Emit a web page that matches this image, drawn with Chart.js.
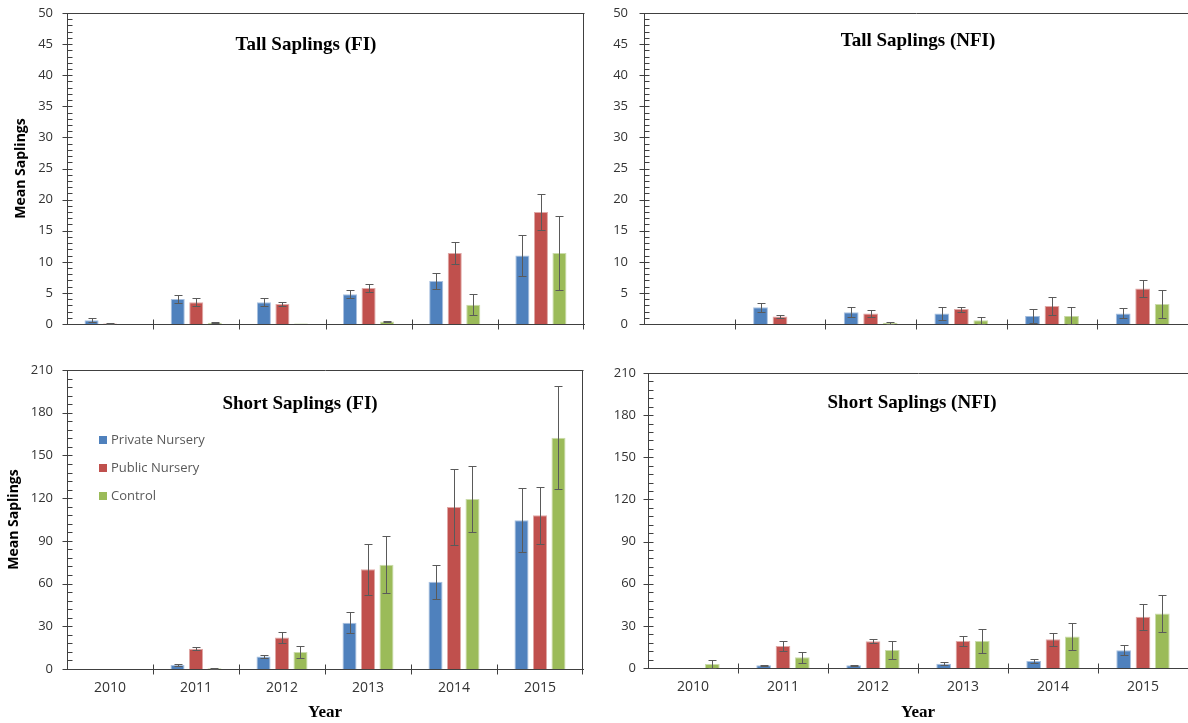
<!DOCTYPE html>
<html>
<head>
<meta charset="utf-8">
<script src="https://cdn.jsdelivr.net/npm/chart.js@4.4.1/dist/chart.umd.min.js"></script>
<style>
  body { margin: 0; background: #fff; width: 1188px; height: 723px; overflow: hidden; position: relative; }
  canvas { position: absolute; }
</style>
</head>
<body>
<canvas id="tallFI" width="600" height="340" style="left:0;top:0"></canvas>
<canvas id="tallNFI" width="588" height="340" style="left:600px;top:0"></canvas>
<canvas id="shortFI" width="600" height="383" style="left:0;top:340px"></canvas>
<canvas id="shortNFI" width="588" height="383" style="left:600px;top:340px"></canvas>
<script>
// categories and series
const years = ['2010', '2011', '2012', '2013', '2014', '2015'];
const seriesNames = ['Private Nursery', 'Public Nursery', 'Control'];
const seriesColors = ['#4F81BD', '#C0504D', '#9BBB59'];
const seriesEdges = ['#a9c1e0', '#e0a9a7', '#cbdcab'];

// Tall saplings, FI
const tallFI_private = [0.6, 4.0, 3.5, 4.8, 6.9, 11.0];
const tallFI_private_err = [0.3, 0.7, 0.6, 0.7, 1.3, 3.3];
const tallFI_public = [0.1, 3.5, 3.2, 5.8, 11.4, 18.0];
const tallFI_public_err = [0.05, 0.65, 0.3, 0.6, 1.8, 2.9];
const tallFI_control = [0, 0.2, 0.1, 0.4, 3.1, 11.4];
const tallFI_control_err = [0, 0.1, 0, 0.15, 1.7, 5.9];

// Tall saplings, NFI
const tallNFI_private = [0, 2.7, 1.9, 1.7, 1.3, 1.7];
const tallNFI_private_err = [0, 0.7, 0.8, 1.1, 1.1, 0.8];
const tallNFI_public = [0, 1.2, 1.7, 2.4, 2.9, 5.7];
const tallNFI_public_err = [0, 0.25, 0.6, 0.4, 1.4, 1.4];
const tallNFI_control = [0, 0, 0.2, 0.6, 1.3, 3.2];
const tallNFI_control_err = [0, 0, 0.2, 0.6, 1.4, 2.3];

// Short saplings, FI
const shortFI_private = [0, 2.8, 8.7, 32.5, 61.3, 104.4];
const shortFI_private_err = [0, 0.8, 1.3, 7.5, 12, 22.5];
const shortFI_public = [0, 14.3, 22.2, 70, 113.8, 107.9];
const shortFI_public_err = [0, 1.2, 3.8, 17.8, 26.7, 19.9];
const shortFI_control = [0, 0.5, 11.9, 73.3, 119.4, 162.5];
const shortFI_control_err = [0, 0.3, 4.5, 20.1, 23.5, 36.3];

// Short saplings, NFI
const shortNFI_private = [0, 1.9, 1.9, 3.1, 5.0, 12.6];
const shortNFI_private_err = [0, 0.5, 0.5, 0.9, 1.4, 3.6];
const shortNFI_public = [0, 15.7, 19, 19.3, 20.5, 36.4];
const shortNFI_public_err = [0, 3.3, 1.5, 3.3, 4.7, 9.3];
const shortNFI_control = [2.9, 7.6, 12.9, 19.3, 22.4, 38.8];
const shortNFI_control_err = [2.6, 4.1, 6.4, 8.8, 9.5, 13.3];

const axisColor = '#404040';
const tickFont = { family: "'Open Sans', sans-serif", size: 13 };

// error bars, minor ticks, frame, title and legend
const decor = {
  id: 'decor',
  afterDatasetsDraw(chart, args, opts) {
    const ctx = chart.ctx;
    const y = chart.scales.y;
    ctx.save();
    ctx.strokeStyle = '#5a5a5a';
    ctx.lineWidth = 1;
    ctx.beginPath();
    chart.data.datasets.forEach((ds, di) => {
      chart.getDatasetMeta(di).data.forEach((bar, i) => {
        const e = ds.errors[i];
        if (!e) return;
        const v = ds.data[i];
        const top = Math.round(y.getPixelForValue(v + e)) + 0.5;
        const bot = Math.round(y.getPixelForValue(Math.max(v - e, 0))) + 0.5;
        const bx = Math.round(bar.x) + 0.5;
        ctx.moveTo(bx, top); ctx.lineTo(bx, bot);
        ctx.moveTo(bx - 4, top); ctx.lineTo(bx + 4, top);
        ctx.moveTo(bx - 4, bot); ctx.lineTo(bx + 4, bot);
      });
    });
    ctx.stroke();
    ctx.restore();
  },
  afterDraw(chart, args, opts) {
    const ctx = chart.ctx, area = chart.chartArea;
    const x = chart.scales.x, y = chart.scales.y;
    ctx.save();
    ctx.strokeStyle = axisColor;
    ctx.lineWidth = 1;
    ctx.beginPath();
    // y ticks
    const ax = Math.round(area.left) + 0.5;
    for (let v = y.min; v <= y.max + 1e-9; v += opts.minor) {
      const py = Math.round(y.getPixelForValue(v)) + 0.5;
      const major = Math.abs(v / opts.major - Math.round(v / opts.major)) < 1e-6;
      ctx.moveTo(ax - (major ? 5 : 0), py);
      ctx.lineTo(ax + 5, py);
    }
    // x ticks between categories
    const by = Math.round(area.bottom) + 0.5;
    for (let i = 0; i < years.length - 1; i++) {
      const px = Math.round((x.getPixelForValue(i) + x.getPixelForValue(i + 1)) / 2) + 0.5;
      ctx.moveTo(px, by - 5); ctx.lineTo(px, by + 5);
    }
    // frame
    const ty = Math.round(area.top) + 0.5;
    const rx = Math.round(area.right) - 0.5;
    ctx.moveTo(ax, ty); ctx.lineTo(rx + 1, ty);
    if (opts.boxRight) {
      ctx.moveTo(rx, ty); ctx.lineTo(rx, by + 5);
    }
    ctx.stroke();

    // panel title
    ctx.fillStyle = '#000';
    ctx.font = "bold 19px 'Liberation Serif', serif";
    ctx.textAlign = 'center';
    ctx.textBaseline = 'middle';
    ctx.fillText(opts.title, opts.titleX, opts.titleY);

    // legend inside plot area
    if (opts.legend) {
      ctx.font = "13px 'Open Sans', sans-serif";
      ctx.textAlign = 'left';
      chart.data.datasets.forEach((ds, i) => {
        const ly = opts.legend.y + i * opts.legend.gap;
        ctx.fillStyle = ds.backgroundColor;
        ctx.fillRect(opts.legend.x, ly - 4, 8, 8);
        ctx.fillStyle = '#595959';
        ctx.fillText(ds.label, opts.legend.x + 12, ly);
      });
    }
    ctx.restore();
  }
};

function makePanel(id, p) {
  const datasets = p.values.map((vals, i) => ({
    label: seriesNames[i],
    data: vals,
    errors: p.errors[i],
    backgroundColor: seriesColors[i],
    borderColor: seriesEdges[i],
    borderWidth: 1,
    categoryPercentage: 0.645,
    barPercentage: 0.76
  }));
  const pad = { top: p.area.top, right: p.width - p.area.right, left: 0, bottom: 0 };
  const fit = { x: p.height - p.area.bottom };
  // tick marks are drawn by the decor plugin; tickLength only spaces the labels
  const chart = new Chart(document.getElementById(id), {
    type: 'bar',
    data: { labels: years, datasets: datasets },
    options: {
      responsive: false,
      animation: false,
      layout: { padding: pad },
      plugins: {
        legend: { display: false },
        tooltip: { enabled: false },
        decor: {
          title: p.title, titleX: p.titleX, titleY: p.titleY,
          minor: p.minor, major: p.step, boxRight: p.boxRight, legend: p.legend
        }
      },
      scales: {
        x: {
          grid: { display: false, drawTicks: true, tickLength: 11 },
          border: { display: true, color: axisColor, width: 1 },
          ticks: { display: p.showX, color: '#333', font: { family: "'Open Sans', sans-serif", size: 14 }, padding: 0 },
          title: {
            display: p.showX, text: 'Year', color: '#000',
            font: { family: "'Liberation Serif', serif", size: 17, weight: 'bold' },
            padding: { top: 0, bottom: 0 }
          },
          afterFit: (s) => { s.height = fit.x; }
        },
        y: {
          min: 0, max: p.max,
          grid: { display: false, drawTicks: true, tickLength: p.labelPad },
          border: { display: true, color: axisColor, width: 1 },
          ticks: { stepSize: p.step, color: '#333', font: tickFont, padding: 0 },
          title: {
            display: p.showY, text: 'Mean Saplings', color: '#000',
            font: { family: "'Open Sans', sans-serif", size: 14, weight: 'bold' },
            padding: { top: p.yTitlePad, bottom: 0 }
          },
          afterFit: (s) => { s.width = p.area.left; }
        }
      }
    },
    plugins: [decor]
  });
  // nudge the padding so the plot area lands where the reference has it
  for (let k = 0; k < 3; k++) {
    const a = chart.chartArea;
    const dTop = p.area.top - a.top;
    const dBottom = a.bottom - p.area.bottom;
    const dRight = a.right - p.area.right;
    if (Math.abs(dTop) < 0.5 && Math.abs(dBottom) < 0.5 && Math.abs(dRight) < 0.5) break;
    chart.options.layout.padding = {
      top: Math.max(0, chart.options.layout.padding.top + dTop),
      right: Math.max(0, chart.options.layout.padding.right + dRight),
      left: 0, bottom: 0
    };
    fit.x = Math.max(0, fit.x + dBottom);
    chart.update();
  }
  return chart;
}

makePanel('tallFI', {
  values: [tallFI_private, tallFI_public, tallFI_control],
  errors: [tallFI_private_err, tallFI_public_err, tallFI_control_err],
  max: 50, step: 5, minor: 1,
  title: 'Tall Saplings (FI)', titleX: 306, titleY: 45,
  width: 600, height: 340, area: { left: 67, top: 13, right: 584, bottom: 324 },
  labelPad: 14, showX: false, showY: true, yTitlePad: 13, boxRight: true
});

makePanel('tallNFI', {
  values: [tallNFI_private, tallNFI_public, tallNFI_control],
  errors: [tallNFI_private_err, tallNFI_public_err, tallNFI_control_err],
  max: 50, step: 5, minor: 1,
  title: 'Tall Saplings (NFI)', titleX: 318, titleY: 41,
  width: 588, height: 340, area: { left: 44, top: 13, right: 588, bottom: 324 },
  labelPad: 16, showX: false, showY: false, yTitlePad: 0, boxRight: false
});

makePanel('shortFI', {
  values: [shortFI_private, shortFI_public, shortFI_control],
  errors: [shortFI_private_err, shortFI_public_err, shortFI_control_err],
  max: 210, step: 30, minor: 6,
  title: 'Short Saplings (FI)', titleX: 300, titleY: 64,
  width: 600, height: 383, area: { left: 67, top: 30, right: 583, bottom: 329 },
  labelPad: 14, showX: true, showY: true, yTitlePad: 6, boxRight: true,
  legend: { x: 99, y: 100, gap: 28 }
});

makePanel('shortNFI', {
  values: [shortNFI_private, shortNFI_public, shortNFI_control],
  errors: [shortNFI_private_err, shortNFI_public_err, shortNFI_control_err],
  max: 210, step: 30, minor: 6,
  title: 'Short Saplings (NFI)', titleX: 312, titleY: 63,
  width: 588, height: 383, area: { left: 48, top: 33, right: 588, bottom: 328 },
  labelPad: 12, showX: true, showY: false, yTitlePad: 0, boxRight: false
});
</script>
</body>
</html>
